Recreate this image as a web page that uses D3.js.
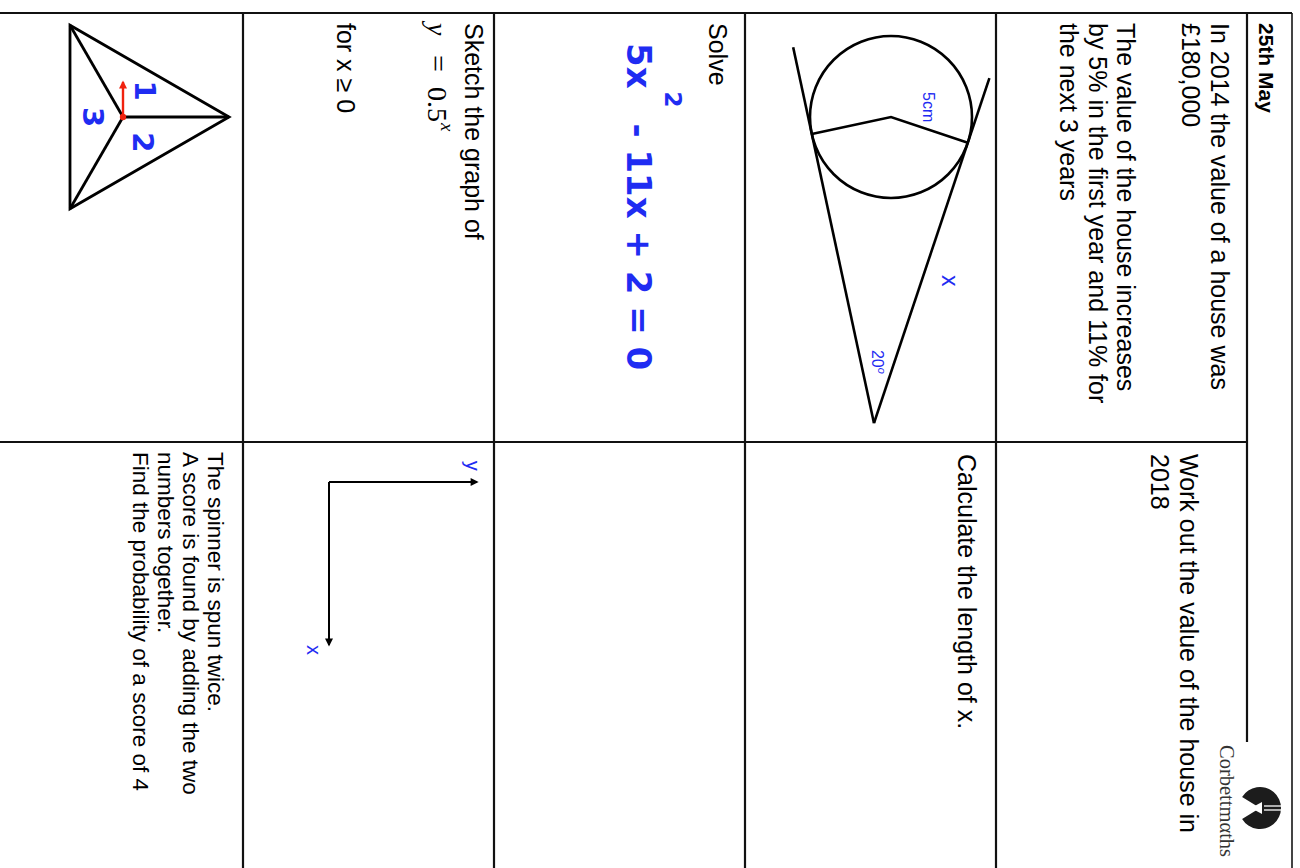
<!DOCTYPE html>
<html>
<head>
<meta charset="utf-8">
<title>25th May</title>
<script src="https://cdn.jsdelivr.net/npm/d3@7/dist/d3.min.js"></script>
<style>
  body { margin: 0; background: #fff; }
  svg { display: block; }
  .txt { font-family: "Liberation Sans", Arial, Helvetica, sans-serif; fill: #000; }
  .blue { fill: #1f2cf2; }
</style>
</head>
<body>
<div id="sheet"></div>
<script>
// Sheet data
// ================================
var dateLabel = "25th May";
var brandName = "Corbettmαths";

var q1Intro = ["In 2014 the value of a house was", "£180,000"];
var q1Growth = ["The value of the house increases", "by 5% in the first year and 11% for", "the next 3 years"];
var q2Prompt = ["Work out the value of the house in", "2018"];
var q3Prompt = ["Calculate the length of x."];
var q4Prompt = ["Solve"];
var q4Equation = ["5x", "2", " - 11x + 2 = 0"];   // base, exponent, rest
var q5Prompt = ["Sketch the graph of"];
var q5Curve = ["y", "=", "0.5", "x"];
var q5Domain = ["for x ≥ 0"];
var q6Prompt = ["The spinner is spun twice.", "A score is found by adding the two",
  "numbers together.", "Find the probability of a score of 4"];

// grid: rows 0..4 under the header, two columns
var gridRows = [1, 2, 3, 4];
var gridCols = [1];

// tangent diagram, cm
var circleCentre = [0, 0];
var circleRadius = 5;
var apex = [18.9, 1.05];
var tangentReach = [1.30, 1.23];
var diagramLabels = [
  { text: "5cm", at: [-1.54, -1.98], size: 16 },
  { text: "x", at: [9.75, -3.15], size: 23 }
];
var angleLabel = { text: "20", deg: "o", at: [14.38, 1.17] };

// axes for the sketch, unit box
var axisExtent = [0, 1];
var axisLabels = [{ text: "x", at: [1.03, -0.1] }, { text: "y", at: [-0.1, 0.97] }];

// spinner, unit radius
var spinnerCentre = [0, 0];
var spinnerVertices = [[0, -1], [-0.866, 0.5], [0.866, 0.5]];
var spinnerPointer = [-0.33, 0];
var spinnerNumbers = [
  { text: "1", at: [-0.25, -0.21] },
  { text: "2", at: [0.24, -0.19] },
  { text: "3", at: [0, 0.28] }
];

// Set up page (the sheet is printed sideways)
// ================================
var svgWidth = 1300;
var svgHeight = 868;

var svg = d3.select("#sheet")
  .append("svg")
  .attr("width", svgWidth)
  .attr("height", svgHeight);

var defs = svg.append("defs");
defs.append("marker")
  .attr("id", "headBlack")
  .attr("viewBox", "0 0 10 10")
  .attr("refX", 8).attr("refY", 5)
  .attr("markerWidth", 9).attr("markerHeight", 8)
  .attr("markerUnits", "userSpaceOnUse")
  .attr("orient", "auto")
  .append("path").attr("d", "M0,0 L10,5 L0,10 z").attr("fill", "#000");
defs.append("marker")
  .attr("id", "headRed")
  .attr("viewBox", "0 0 10 10")
  .attr("refX", 8).attr("refY", 5)
  .attr("markerWidth", 9).attr("markerHeight", 8)
  .attr("markerUnits", "userSpaceOnUse")
  .attr("orient", "auto")
  .append("path").attr("d", "M0,0 L10,5 L0,10 z").attr("fill", "#f0220e");

// u runs across the sheet, v runs down it
var page = svg.append("g")
  .attr("transform", `translate(${svgWidth}, 0) rotate(90)`);

var rowScale = d3.scaleLinear().domain([0, 4]).range([53, 1057]);
var colScale = d3.scaleLinear().domain([0, 1]).range([13, 442]);
var pageTop = 8, pageRight = 880, pageBottom = 1310;

// grid lines
page.append("line")
  .attr("x1", colScale(0)).attr("x2", pageRight)
  .attr("y1", pageTop).attr("y2", pageTop)
  .attr("stroke", "#444").attr("stroke-width", 2);
page.append("line")
  .attr("x1", colScale(0)).attr("x2", colScale(0))
  .attr("y1", pageTop).attr("y2", pageBottom)
  .attr("stroke", "#111").attr("stroke-width", 2.2);
page.append("line")
  .attr("x1", colScale(0)).attr("x2", 742)
  .attr("y1", rowScale(0)).attr("y2", rowScale(0))
  .attr("stroke", "#111").attr("stroke-width", 2.2);

page.selectAll("line.row")
  .data(gridRows)
  .enter()
  .append("line")
  .classed("row", true)
  .attr("x1", colScale(0)).attr("x2", pageRight)
  .attr("y1", d => rowScale(d)).attr("y2", d => rowScale(d))
  .attr("stroke", "#111").attr("stroke-width", 2.2);

page.selectAll("line.col")
  .data(gridCols)
  .enter()
  .append("line")
  .classed("col", true)
  .attr("x1", d => colScale(d)).attr("x2", d => colScale(d))
  .attr("y1", rowScale(0)).attr("y2", pageBottom)
  .attr("stroke", "#111").attr("stroke-width", 2.2);

// helper for blocks of text
function addLines(lines, u, v, lineHeight, size) {
  page.selectAll(null)
    .data(lines)
    .enter()
    .append("text")
    .attr("class", "txt")
    .attr("x", u)
    .attr("y", (d, i) => v + i * lineHeight)
    .attr("font-size", size + "px")
    .text(d => d);
}

var leftU = colScale(0) + 10;
var rightU = colScale(1) + 12;

// header
page.append("text")
  .attr("class", "txt")
  .attr("x", leftU)
  .attr("y", 41)
  .attr("font-size", "21px")
  .attr("font-weight", "bold")
  .text(dateLabel);

// logo
var logo = page.append("g").attr("transform", "translate(808, 40)");
logo.append("path")
  .attr("d", d3.arc()({ innerRadius: 0, outerRadius: 21, startAngle: -Math.PI + 0.55, endAngle: Math.PI - 0.55 }))
  .attr("fill", "#1c1c1c");
logo.append("path")
  .attr("d", "M-6,-2 L6,-2 L0,9 z")
  .attr("fill", "#fff");
logo.append("line").attr("x1", -2).attr("x2", -2).attr("y1", -4).attr("y2", -22)
  .attr("stroke", "#fff").attr("stroke-width", 1.3);
logo.append("line").attr("x1", 2).attr("x2", 2).attr("y1", -4).attr("y2", -22)
  .attr("stroke", "#fff").attr("stroke-width", 1.3);
page.append("text")
  .attr("x", 745)
  .attr("y", 80)
  .attr("font-family", "'Liberation Serif', 'Times New Roman', serif")
  .attr("font-size", "20.5px")
  .attr("fill", "#333")
  .text(brandName);

// Q1 / Q2 text
addLines(q1Intro, leftU, rowScale(0) + 36, 29, 25);
addLines(q1Growth, leftU, rowScale(0) + 130, 28.5, 25);
addLines(q2Prompt, rightU, rowScale(0) + 67, 29, 25);

// Q3: tangent diagram
// ================================
var cmU = d3.scaleLinear().domain([0, 1]).range([117, 133.2]);
var cmV = d3.scaleLinear().domain([0, 1]).range([409, 425.2]);

var dApex = Math.hypot(apex[0] - circleCentre[0], apex[1] - circleCentre[1]);
var baseAng = Math.atan2(apex[1] - circleCentre[1], apex[0] - circleCentre[0]);
var halfAng = Math.acos(circleRadius / dApex);
var touchPoints = [baseAng + halfAng, baseAng - halfAng].map(a => [
  circleCentre[0] + circleRadius * Math.cos(a),
  circleCentre[1] + circleRadius * Math.sin(a)
]);

var diagram = page.append("g");
diagram.append("circle")
  .attr("cx", cmU(circleCentre[0]))
  .attr("cy", cmV(circleCentre[1]))
  .attr("r", cmU(circleRadius) - cmU(0))
  .attr("fill", "none").attr("stroke", "#000").attr("stroke-width", 2.6);

diagram.append("path")
  .attr("d", d3.line().x(d => cmU(d[0])).y(d => cmV(d[1]))([touchPoints[0], circleCentre, touchPoints[1]]))
  .attr("fill", "none").attr("stroke", "#000").attr("stroke-width", 2.6);

diagram.selectAll("line.tangent")
  .data(touchPoints)
  .enter()
  .append("line")
  .classed("tangent", true)
  .attr("x1", cmU(apex[0])).attr("y1", cmV(apex[1]))
  .attr("x2", (d, i) => cmU(apex[0] + (d[0] - apex[0]) * tangentReach[i]))
  .attr("y2", (d, i) => cmV(apex[1] + (d[1] - apex[1]) * tangentReach[i]))
  .attr("stroke", "#000").attr("stroke-width", 2.6);

diagram.selectAll("text.lab")
  .data(diagramLabels)
  .enter()
  .append("text")
  .attr("class", "txt blue lab")
  .attr("x", d => cmU(d.at[0]))
  .attr("y", d => cmV(d.at[1]))
  .attr("font-size", d => d.size + "px")
  .text(d => d.text);

var angText = diagram.append("text")
  .attr("class", "txt blue")
  .attr("x", cmU(angleLabel.at[0]))
  .attr("y", cmV(angleLabel.at[1]))
  .attr("font-size", "16px")
  .text(angleLabel.text);
angText.append("tspan")
  .attr("font-size", "11px")
  .attr("font-style", "italic")
  .attr("dy", -6)
  .text(angleLabel.deg);

addLines(q3Prompt, rightU, rowScale(1) + 38, 29, 25);

// Q4: quadratic
// ================================
addLines(q4Prompt, leftU, rowScale(2) + 36, 29, 25);
var eq = page.append("text")
  .attr("x", 43)
  .attr("y", rowScale(2) + 118)
  .attr("font-family", "'DejaVu Sans', Verdana, sans-serif")
  .attr("font-weight", "bold")
  .attr("font-size", "34px")
  .attr("class", "blue")
  .attr("xml:space", "preserve");
eq.append("tspan").text(q4Equation[0]);
eq.append("tspan").attr("font-size", "23px").attr("dy", -38).attr("dx", 3).text(q4Equation[1]);
eq.append("tspan").attr("dy", 38).attr("dx", 4).text(q4Equation[2]);

// Q5: sketch y = 0.5^x
// ================================
addLines(q5Prompt, leftU, rowScale(3) + 29, 29, 25);
var curve = page.append("text")
  .attr("y", rowScale(3) + 66)
  .attr("font-family", "'Liberation Serif', serif")
  .attr("font-size", "28px");
curve.append("tspan").attr("x", leftU).attr("font-style", "italic").text(q5Curve[0]);
curve.append("tspan").attr("x", leftU + 32).attr("font-size", "30px").text(q5Curve[1]);
curve.append("tspan").attr("x", leftU + 64).text(q5Curve[2]);
curve.append("tspan").attr("font-style", "italic").attr("font-size", "19px").attr("dy", -13).attr("dx", 1).text(q5Curve[3]);
addLines(q5Domain, leftU, rowScale(3) + 157, 29, 25);

var axU = d3.scaleLinear().domain(axisExtent).range([482, 645]);
var axV = d3.scaleLinear().domain(axisExtent).range([rowScale(3) + 165, rowScale(3) + 17]);

page.append("line")
  .attr("x1", axU(0)).attr("y1", axV(0))
  .attr("x2", axU(1)).attr("y2", axV(0))
  .attr("stroke", "#000").attr("stroke-width", 2)
  .attr("marker-end", "url(#headBlack)");
page.append("line")
  .attr("x1", axU(0)).attr("y1", axV(0))
  .attr("x2", axU(0)).attr("y2", axV(1))
  .attr("stroke", "#000").attr("stroke-width", 2)
  .attr("marker-end", "url(#headBlack)");
page.selectAll("text.axl")
  .data(axisLabels)
  .enter()
  .append("text")
  .attr("class", "txt blue axl")
  .attr("x", d => axU(d.at[0]))
  .attr("y", d => axV(d.at[1]))
  .attr("text-anchor", "middle")
  .attr("dominant-baseline", "central")
  .attr("font-size", "20px")
  .text(d => d.text);

// Q6: spinner
// ================================
var spU = d3.scaleLinear().domain([-1, 1]).range([11, 223]);
var spV = d3.scaleLinear().domain([-1, 1]).range([rowScale(4) + 14, rowScale(4) + 226]);

var spinner = page.append("g");
spinner.append("path")
  .attr("d", d3.line().x(d => spU(d[0])).y(d => spV(d[1])).curve(d3.curveLinearClosed)(spinnerVertices))
  .attr("fill", "none").attr("stroke", "#000").attr("stroke-width", 2.8)
  .attr("stroke-linejoin", "miter");
spinner.selectAll("line.spoke")
  .data(spinnerVertices)
  .enter()
  .append("line")
  .classed("spoke", true)
  .attr("x1", spU(spinnerCentre[0])).attr("y1", spV(spinnerCentre[1]))
  .attr("x2", d => spU(d[0])).attr("y2", d => spV(d[1]))
  .attr("stroke", "#000").attr("stroke-width", 2.8);
spinner.append("line")
  .attr("x1", spU(spinnerCentre[0])).attr("y1", spV(spinnerCentre[1]))
  .attr("x2", spU(spinnerPointer[0])).attr("y2", spV(spinnerPointer[1]))
  .attr("stroke", "#f0220e").attr("stroke-width", 2.4)
  .attr("marker-end", "url(#headRed)");
spinner.append("circle")
  .attr("cx", spU(spinnerCentre[0])).attr("cy", spV(spinnerCentre[1]))
  .attr("r", 3.2).attr("fill", "#f0220e");
spinner.selectAll("text.num")
  .data(spinnerNumbers)
  .enter()
  .append("text")
  .attr("class", "blue num")
  .attr("x", d => spU(d.at[0]))
  .attr("y", d => spV(d.at[1]))
  .attr("text-anchor", "middle")
  .attr("dominant-baseline", "central")
  .attr("font-family", "'DejaVu Sans', Verdana, sans-serif")
  .attr("font-weight", "bold")
  .attr("font-size", "29px")
  .text(d => d.text);

addLines(q6Prompt, colScale(1) + 10, rowScale(4) + 35, 25, 22.5);
</script>
</body>
</html>
